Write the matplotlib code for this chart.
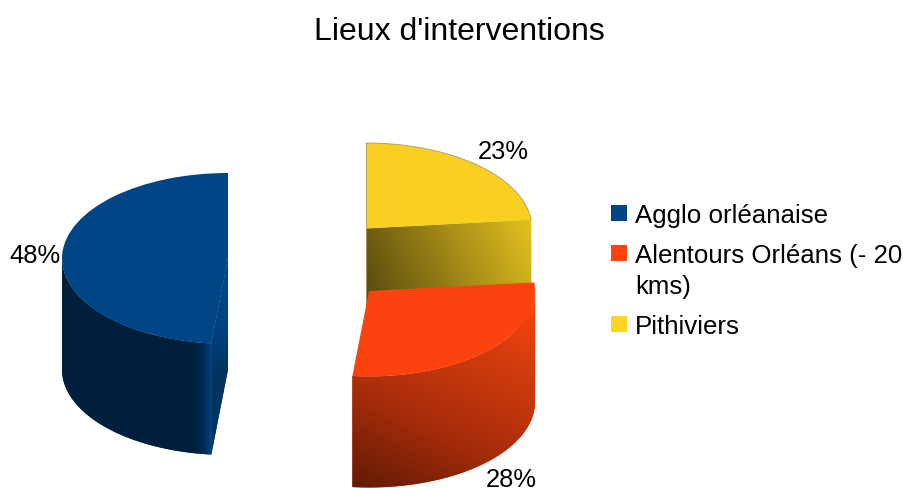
import numpy as np
import matplotlib
matplotlib.use("Agg")
import matplotlib.pyplot as plt
from matplotlib.patches import PathPatch, Rectangle
from matplotlib.path import Path
from matplotlib.transforms import Affine2D
from matplotlib.colors import LinearSegmentedColormap

plt.rcParams['font.family'] = ['Liberation Sans', 'DejaVu Sans']

# ---- data ----
title = "Lieux d'interventions"
categories = ["Agglo orléanaise", "Alentours Orléans (- 20\nkms)", "Pithiviers"]
values = [48.4, 28.2, 23.4]          # drawn clockwise from 12 o'clock, last first
percent_labels = ["48%", "28%", "23%"]

# ---- style / layout (pixels from the top-left of the picture) ----
W, H = 904, 489
top_colors = ["#004586", "#fc430f", "#f9cf20"]
legend_colors = ["#004586", "#ff420e", "#ffd320"]
centers_px = [(228, 259.5), (369, 292), (366, 229.5)]
RX, RY, DEPTH = 166, 85.5, 111
label_pos_px = [(35, 256), (511, 480), (503, 152)]
legend_row_px = [214, 254, 325]

fig = plt.figure(figsize=(W / 100, H / 100), dpi=100)
ax = fig.add_axes([0, 0, 1, 1])

order = [2, 1, 0]
wedges, _ = ax.pie([values[i] for i in order], colors=[top_colors[i] for i in order],
                   startangle=90, counterclock=False, frame=False,
                   wedgeprops=dict(linewidth=0))
wedge_of = {i: w for i, w in zip(order, wedges)}


def center(i):
    return centers_px[i][0], H - centers_px[i][1]


def on_ellipse(i, deg, dz=0):
    cx, cy = center(i)
    a = np.radians(deg)
    return cx + RX * np.cos(a), cy + RY * np.sin(a) - dz


def gradient(path, stops, p0, p1, z):
    v = path.vertices
    x0, x1 = v[:, 0].min() - 2, v[:, 0].max() + 2
    y0, y1 = v[:, 1].min() - 2, v[:, 1].max() + 2
    xs, ys = np.meshgrid(np.linspace(x0, x1, 300), np.linspace(y0, y1, 300))
    d = np.array(p1, float) - np.array(p0, float)
    t = ((xs - p0[0]) * d[0] + (ys - p0[1]) * d[1]) / (d @ d)
    cmap = LinearSegmentedColormap.from_list("g", stops)
    ax.add_patch(PathPatch(path, facecolor=stops[len(stops) // 2][1], edgecolor="none", zorder=z))
    im = ax.imshow(np.clip(t, 0, 1), extent=(x0, x1, y0, y1), origin="lower", cmap=cmap,
                   vmin=0, vmax=1, aspect="auto", zorder=z + 0.1, interpolation="bilinear")
    im.set_clip_path(PathPatch(path, transform=ax.transData))


def outer_side(i):
    """Only the front part of the rim (below the ellipse's widest line) shows."""
    w = wedge_of[i]
    deg = np.linspace(w.theta1, w.theta2, 400)
    deg = deg[np.sin(np.radians(deg)) <= 0]
    top = [on_ellipse(i, d) for d in deg]
    bot = [on_ellipse(i, d, DEPTH) for d in deg[::-1]]
    return Path(top + bot + [top[0]])


def radial_face(i, deg):
    c = center(i)
    e = on_ellipse(i, deg)
    return Path([c, e, (e[0], e[1] - DEPTH), (c[0], c[1] - DEPTH), c])


def place_top(i, z):
    w = wedge_of[i]
    w.set_transform(Affine2D().scale(RX, RY).translate(*center(i)) + ax.transData)
    w.set_zorder(z)


# --- Agglo orléanaise (blue) ---
b = wedge_of[0]
bx, by = center(0)
cut_x = on_ellipse(0, b.theta2)[0]
gradient(radial_face(0, b.theta2), [(0, "#004586"), (0.45, "#004180"), (1, "#00335f")],
         (bx, by - 30), (bx + 8, by - 115), 1)
gradient(outer_side(0),
         [(0, "#001f3c"), (0.87, "#001f3c"), (0.95, "#002b54"), (1, "#00427f")],
         (bx - RX, 0), (cut_x, 0), 1.2)
place_top(0, 2)

# --- Pithiviers (yellow) ---
y = wedge_of[2]
cx, cy = center(2)
gradient(radial_face(2, y.theta1),
         [(0, "#5f500f"), (0.5, "#a58b18"), (1, "#eac720")],
         (cx + 5, cy - 60), (cx + RX + 5, cy + 15), 3)
place_top(2, 4)
arc = np.linspace(y.theta1, y.theta2, 100)
ax.plot(*zip(*[on_ellipse(2, d) for d in arc]), color="#a89a5c", lw=0.6, zorder=4.5)
ax.plot([cx, cx], [cy + RY, cy - 80], color="#a8a070", lw=0.6, zorder=4.5)

# --- Alentours Orléans (orange) ---
cx, cy = center(1)
gradient(outer_side(1),
         [(0, "#621a05"), (0.38, "#a92d0a"), (0.77, "#d63d0e"), (1, "#fc430f")],
         (cx - 17, cy - 196), (cx + 87, cy + 25), 5)
place_top(1, 6)

# --- texts ---
ax.text(459.5, H - 32, title, fontsize=23, ha="center", va="center")
for txt, (px, py) in zip(percent_labels, label_pos_px):
    ax.text(px, H - py, txt, fontsize=18.4, ha="center", va="center", zorder=10)

for cat, col, py in zip(categories, legend_colors, legend_row_px):
    ax.add_patch(Rectangle((611, H - py - 8), 16, 16, facecolor=col, edgecolor="none", zorder=10))
    ax.text(635, H - py + 10, cat, fontsize=18.6, ha="left", va="top", linespacing=1.37, zorder=10)

ax.set_xlim(0, W)
ax.set_ylim(0, H)
ax.set_aspect("auto")
ax.axis("off")
fig.savefig("out.png", dpi=100)
